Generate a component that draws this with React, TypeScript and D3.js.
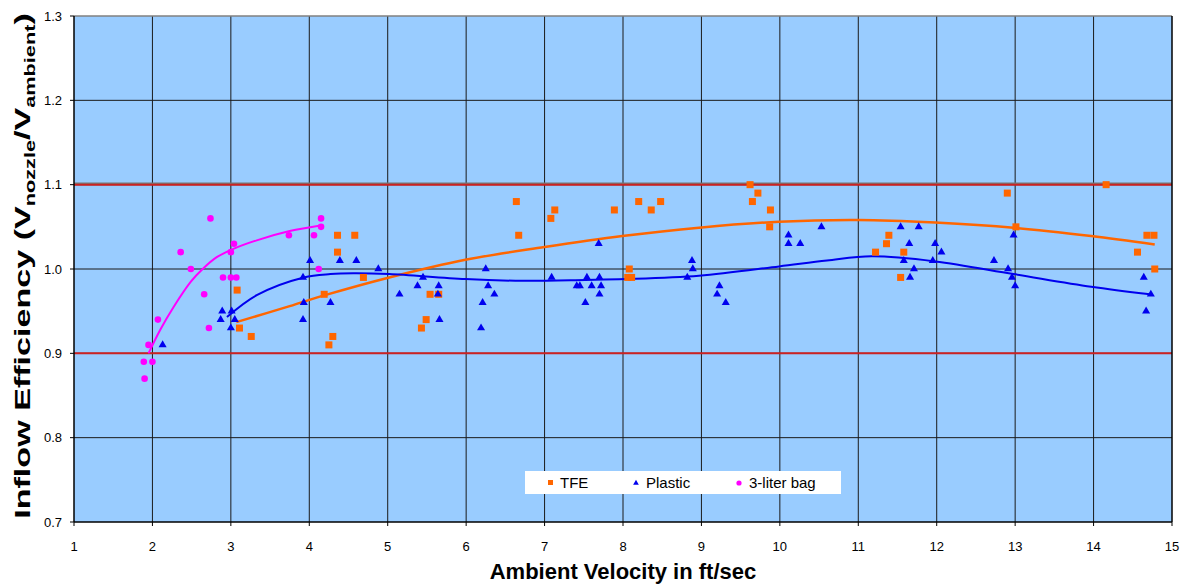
import React from "react";
import * as d3 from "d3";

const xTicks = [1, 2, 3, 4, 5, 6, 7, 8, 9, 10, 11, 12, 13, 14, 15];
const yTicks = [0.7, 0.8, 0.9, 1.0, 1.1, 1.2, 1.3];
const limitLines = [0.9, 1.1];

const tfeX = [3.08, 3.11, 3.26, 4.19, 4.25, 4.30, 4.36, 4.36, 4.58, 4.69, 5.43, 5.49, 5.54, 5.65, 6.64, 6.67, 7.08, 7.13, 7.89, 8.08, 8.06, 8.11, 8.20, 8.36, 8.48, 9.62, 9.65, 9.72, 9.87, 9.88, 11.22, 11.36, 11.39, 11.54, 11.58, 12.90, 13.01, 14.16, 14.56, 14.68, 14.77, 14.78];
const tfeY = [0.975, 0.93, 0.92, 0.97, 0.91, 0.92, 1.04, 1.02, 1.04, 0.99, 0.93, 0.94, 0.97, 0.97, 1.08, 1.04, 1.06, 1.07, 1.07, 1.0, 0.99, 0.99, 1.08, 1.07, 1.08, 1.1, 1.08, 1.09, 1.05, 1.07, 1.02, 1.03, 1.04, 0.99, 1.02, 1.09, 1.05, 1.1, 1.02, 1.04, 1.04, 1.0];

const plasticX = [2.13, 2.87, 2.89, 3.0, 3.01, 3.05, 3.92, 3.92, 3.93, 4.01, 4.27, 4.39, 4.60, 4.88, 5.15, 5.38, 5.45, 5.64, 5.65, 5.66, 6.19, 6.21, 6.25, 6.28, 6.36, 7.09, 7.41, 7.45, 7.52, 7.54, 7.60, 7.69, 7.70, 7.70, 7.72, 8.82, 8.88, 8.89, 9.20, 9.23, 9.31, 10.11, 10.11, 10.26, 10.53, 11.54, 11.58, 11.65, 11.66, 11.71, 11.77, 11.95, 11.98, 12.06, 12.73, 12.91, 12.96, 12.98, 13.0, 14.64, 14.67, 14.73];
const plasticY = [0.91, 0.94, 0.95, 0.93, 0.95, 0.94, 0.99, 0.94, 0.96, 1.01, 0.96, 1.01, 1.01, 1.0, 0.97, 0.98, 0.99, 0.97, 0.98, 0.94, 0.93, 0.96, 1.0, 0.98, 0.97, 0.99, 0.98, 0.98, 0.96, 0.99, 0.98, 1.03, 0.99, 0.97, 0.98, 0.99, 1.01, 1.0, 0.97, 0.98, 0.96, 1.04, 1.03, 1.03, 1.05, 1.05, 1.01, 1.03, 0.99, 1.0, 1.05, 1.01, 1.03, 1.02, 1.01, 1.0, 0.99, 1.04, 0.98, 0.99, 0.95, 0.97];

const bagX = [1.89, 1.90, 1.95, 2.0, 2.07, 2.36, 2.49, 2.66, 2.72, 2.74, 2.90, 3.0, 3.0, 3.04, 3.07, 3.74, 4.06, 4.12, 4.15, 4.15];
const bagY = [0.89, 0.87, 0.91, 0.89, 0.94, 1.02, 1.0, 0.97, 0.93, 1.06, 0.99, 0.99, 1.02, 1.03, 0.99, 1.04, 1.04, 1.0, 1.06, 1.05];

// trendlines
const tfeTrendX = [3.07, 3.75, 4.2, 5.02, 5.99, 7.0, 7.99, 8.97, 9.99, 11.0, 11.98, 12.98, 13.97, 14.78];
const tfeTrendY = [0.937, 0.956, 0.969, 0.99, 1.011, 1.026, 1.039, 1.049, 1.056, 1.058, 1.055, 1.049, 1.039, 1.029];
const plasticTrendX = [2.95, 3.33, 3.93, 4.27, 4.56, 5.02, 5.99, 6.72, 7.52, 8.03, 8.97, 9.99, 10.6, 11.17, 11.98, 12.98, 13.97, 14.72];
const plasticTrendY = [0.943, 0.969, 0.99, 0.994, 0.995, 0.994, 0.988, 0.986, 0.987, 0.988, 0.992, 1.003, 1.01, 1.015, 1.009, 0.994, 0.979, 0.97];
const bagTrendX = [1.95, 2.1, 2.27, 2.49, 2.64, 2.82, 3.01, 3.33, 3.75, 4.16];
const bagTrendY = [0.9, 0.928, 0.955, 0.985, 1.0, 1.014, 1.023, 1.034, 1.045, 1.052];

const legendLabels = ["TFE", "Plastic", "3-liter bag"];

const W = 1183;
const H = 584;
const L = 74, R = 1172, T = 16, B = 522;
const FONT = "'Liberation Sans', Arial, sans-serif";

const ORANGE = "#FF6600";
const BLUE = "#0000EE";
const MAGENTA = "#FF00FF";

export default function App() {
  const x = d3.scaleLinear().domain([1, 15]).range([L, R]);
  const y = d3.scaleLinear().domain([0.7, 1.3]).range([B, T]);

  const line = d3
    .line<[number, number]>()
    .x((d) => x(d[0]))
    .y((d) => y(d[1]))
    .curve(d3.curveCatmullRom.alpha(0.5));

  const zip = (a: number[], b: number[]) => a.map((v, i) => [v, b[i]] as [number, number]);

  const tri = d3.symbol().type(d3.symbolTriangle).size(28)() as string;

  return (
    <svg width={W} height={H} style={{ position: "absolute", left: 0, top: 0 }} fontFamily={FONT}>
      <rect x={L} y={T} width={R - L} height={B - T} fill="#99CCFF" />
      {xTicks.slice(1, -1).map((t) => (
        <line key={"gx" + t} x1={x(t)} x2={x(t)} y1={T} y2={B} stroke="#1a1a1a" strokeWidth={1} />
      ))}
      {yTicks.slice(1, -1).map((t) => (
        <line key={"gy" + t} x1={L} x2={R} y1={y(t)} y2={y(t)} stroke="#1a1a1a" strokeWidth={1} />
      ))}
      {limitLines.map((t) => (
        <g key={"lim" + t}>
          {t > 1 && <line x1={L} x2={R} y1={y(t) - 1.5} y2={y(t) - 1.5} stroke="#777" strokeWidth={1.5} />}
          <line x1={L} x2={R} y1={y(t)} y2={y(t)} stroke="#CC2222" strokeWidth={2} />
        </g>
      ))}
      <line x1={L} x2={R} y1={T} y2={T} stroke="#808080" strokeWidth={1.5} />
      <line x1={R} x2={R} y1={T} y2={B} stroke="#000" strokeWidth={1.5} />
      <line x1={L} x2={L} y1={T} y2={B} stroke="#000" strokeWidth={1.5} />
      <line x1={L} x2={R} y1={B} y2={B} stroke="#000" strokeWidth={1.5} />
      {xTicks.map((t) => (
        <g key={"tx" + t}>
          <line x1={x(t)} x2={x(t)} y1={B} y2={B + 4} stroke="#000" />
          <text x={x(t)} y={551} fontSize={13} textAnchor="middle" fill="#000">{t}</text>
        </g>
      ))}
      {yTicks.map((t) => (
        <g key={"ty" + t}>
          <line x1={L - 4} x2={L} y1={y(t)} y2={y(t)} stroke="#000" />
          <text x={62} y={y(t) + 4.5} fontSize={13} textAnchor="end" fill="#000">{t.toFixed(1)}</text>
        </g>
      ))}

      <path d={line(zip(tfeTrendX, tfeTrendY)) || ""} fill="none" stroke={ORANGE} strokeWidth={2.5} />
      <path d={line(zip(plasticTrendX, plasticTrendY)) || ""} fill="none" stroke={BLUE} strokeWidth={2} />
      <path d={line(zip(bagTrendX, bagTrendY)) || ""} fill="none" stroke={MAGENTA} strokeWidth={2} />

      {tfeX.map((v, i) => (
        <rect key={"t" + i} x={x(v) - 3.5} y={y(tfeY[i]) - 3.5} width={7} height={7} fill={ORANGE} />
      ))}
      {plasticX.map((v, i) => (
        <path key={"p" + i} d={tri} transform={`translate(${x(v)},${y(plasticY[i])})`} fill={BLUE} />
      ))}
      {bagX.map((v, i) => (
        <circle key={"b" + i} cx={x(v)} cy={y(bagY[i])} r={3.3} fill={MAGENTA} />
      ))}

      <rect x={525} y={471} width={316} height={23} fill="#fff" />
      <rect x={548} y={480} width={5} height={5} fill={ORANGE} />
      <text x={560} y={488} fontSize={15} fill="#000">{legendLabels[0]}</text>
      <path d={d3.symbol().type(d3.symbolTriangle).size(14)() as string} transform="translate(636,483)" fill={BLUE} />
      <text x={646} y={488} fontSize={15} fill="#000">{legendLabels[1]}</text>
      <circle cx={739} cy={483} r={2.6} fill={MAGENTA} />
      <text x={749} y={488} fontSize={15} fill="#000">{legendLabels[2]}</text>

      <text x={623} y={579} fontSize={22} fontWeight="bold" textAnchor="middle" fill="#000">Ambient Velocity in ft/sec</text>
      <text transform="translate(30,266) rotate(-90) scale(1.55,1)" fontSize={22} fontWeight="bold" textAnchor="middle" fill="#000">
        Inflow Efficiency (V<tspan fontSize={14} dy={5}>nozzle</tspan><tspan dy={-5}>/V</tspan><tspan fontSize={14} dy={5}>ambient</tspan><tspan dy={-5}>)</tspan>
      </text>
    </svg>
  );
}
